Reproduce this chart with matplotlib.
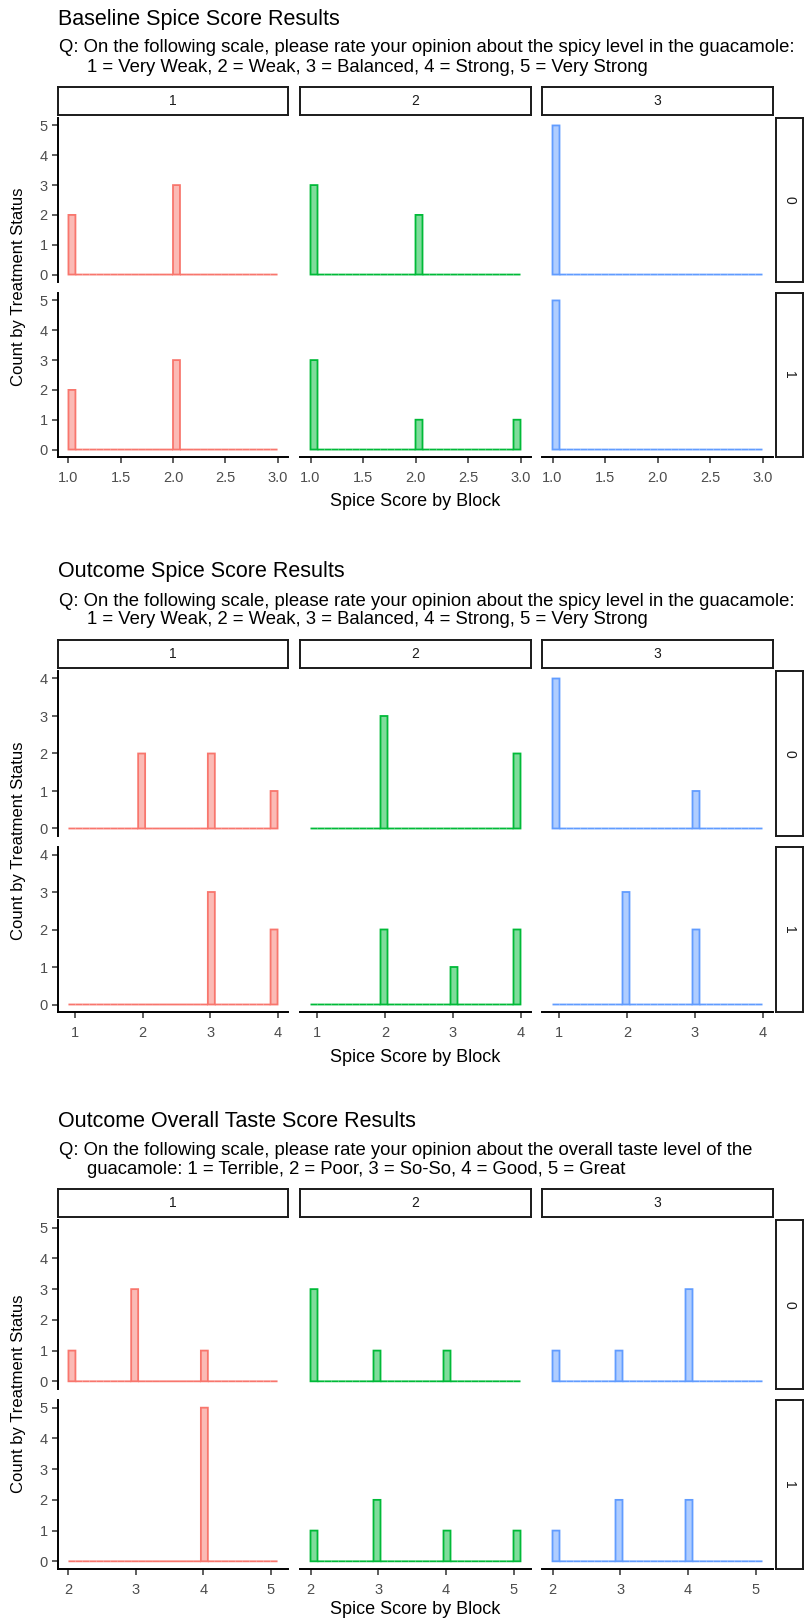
import numpy as np
import matplotlib
matplotlib.use("Agg")
import matplotlib.pyplot as plt

W, H = 807, 1619
plt.rcParams['font.family'] = ['Liberation Sans', 'DejaVu Sans']

colors = ["#F8766D", "#00BA38", "#619CFF"]
blocks = ["1", "2", "3"]
treat = ["0", "1"]

titles = ["Baseline Spice Score Results",
          "Outcome Spice Score Results",
          "Outcome Overall Taste Score Results"]
sub1 = ["Q: On the following scale, please rate your opinion about the spicy level in the guacamole:",
        "Q: On the following scale, please rate your opinion about the spicy level in the guacamole:",
        "Q: On the following scale, please rate your opinion about the overall taste level of the"]
sub2 = ["1 = Very Weak, 2 = Weak, 3 = Balanced, 4 = Strong, 5 = Very Strong",
        "1 = Very Weak, 2 = Weak, 3 = Balanced, 4 = Strong, 5 = Very Strong",
        "guacamole: 1 = Terrible, 2 = Poor, 3 = So-So, 4 = Good, 5 = Great"]

# scores on each chart and counts per [treatment][block]
base_scores = [1, 2, 3]
base_counts = [[[2, 3, 0], [3, 2, 0], [5, 0, 0]],
               [[2, 3, 0], [3, 1, 1], [5, 0, 0]]]

spice_scores = [1, 2, 3, 4]
spice_counts = [[[0, 2, 2, 1], [0, 3, 0, 2], [4, 0, 1, 0]],
                [[0, 0, 3, 2], [0, 2, 1, 2], [0, 3, 2, 0]]]

taste_scores = [2, 3, 4, 5]
taste_counts = [[[1, 3, 1, 0], [3, 1, 1, 0], [1, 1, 3, 0]],
                [[0, 0, 5, 0], [1, 2, 1, 1], [1, 2, 2, 0]]]

# histogram range (30 bins), x ticks, y ticks
bin_range = [(1.0, 3.0), (0.9, 4.0), (2.0, 5.1)]
xticks = [[1.0, 1.5, 2.0, 2.5, 3.0], [1, 2, 3, 4], [2, 3, 4, 5]]
xtick_labels = [["1.0", "1.5", "2.0", "2.5", "3.0"], ["1", "2", "3", "4"], ["2", "3", "4", "5"]]
ymax = [5, 4, 5]

charts = [(base_scores, base_counts), (spice_scores, spice_counts), (taste_scores, taste_counts)]
title_y = [19, 572, 1121]
row_h = [164, 165, 169]
xlab_off = [44, 45, 40]
cols_x = [(58, 288), (300, 531), (542, 773)]
rstrip_x = (776, 803)

fig = plt.figure(figsize=(W / 100, H / 100), dpi=100)


def ax_at(left, top, right, bottom):
    return fig.add_axes([left / W, 1 - bottom / H, (right - left) / W, (bottom - top) / H])


def strip(left, top, right, bottom, label, rot=0):
    a = ax_at(left, top, right, bottom)
    a.set_xticks([])
    a.set_yticks([])
    for s in a.spines.values():
        s.set_linewidth(1.4)
        s.set_color("#1a1a1a")
    a.text(0.5, 0.5, label, rotation=rot, ha="center", va="center",
           fontsize=10, color="#1a1a1a", transform=a.transAxes)


for ci, (scores, counts) in enumerate(charts):
    ty = title_y[ci]
    rh = row_h[ci]
    fig.text(58 / W, 1 - ty / H, titles[ci], fontsize=15.5, ha="left", va="center")
    fig.text(59 / W, 1 - (ty + 29) / H, sub1[ci], fontsize=13.3, ha="left", va="center")
    fig.text(87 / W, 1 - (ty + 48) / H, sub2[ci], fontsize=13.3, ha="left", va="center")

    edges = np.linspace(bin_range[ci][0], bin_range[ci][1], 31)
    span = edges[-1] - edges[0]
    xlim = (edges[0] - 0.05 * span, edges[-1] + 0.05 * span)

    for bi, (x0, x1) in enumerate(cols_x):
        strip(x0, ty + 68, x1, ty + 96, blocks[bi])

    for ri in range(2):
        top = ty + 99 + ri * (rh + 11)
        bot = top + rh
        strip(rstrip_x[0], top, rstrip_x[1], bot, treat[ri], rot=-90)
        for bi, (x0, x1) in enumerate(cols_x):
            ax = ax_at(x0, top, x1, bot)
            vals = np.repeat(scores, counts[ri][bi])
            h, _ = np.histogram(vals, bins=edges)
            ax.bar(edges[:-1], h, width=np.diff(edges), align="edge",
                   facecolor=colors[bi], alpha=0.5, edgecolor="none", snap=False)
            ax.bar(edges[:-1], h, width=np.diff(edges), align="edge",
                   facecolor="none", edgecolor=colors[bi], linewidth=1.3, snap=False)
            ax.set_xlim(*xlim)
            ax.set_ylim(-0.05 * ymax[ci], ymax[ci] * 1.05)
            for s in ["top", "right"]:
                ax.spines[s].set_visible(False)
            ax.tick_params(colors="#333333", labelcolor="#4d4d4d", labelsize=10.5,
                           length=4, width=1.1)
            ax.tick_params(axis="x", pad=6)
            ax.set_yticks(range(ymax[ci] + 1))
            ax.set_xticks(xticks[ci])
            ax.set_xticklabels(xtick_labels[ci])
            if bi == 0:
                ax.spines["left"].set_linewidth(1.4)
            else:
                ax.spines["left"].set_visible(False)
                ax.tick_params(axis="y", left=False, labelleft=False)
            if ri == 1:
                ax.spines["bottom"].set_linewidth(1.4)
            else:
                ax.spines["bottom"].set_visible(False)
                ax.tick_params(axis="x", bottom=False, labelbottom=False)

    y_mid = ty + 99 + rh + 5
    fig.text(19 / W, 1 - y_mid / H, "Count by Treatment Status", rotation=90,
             fontsize=12, ha="center", va="center")
    fig.text(415 / W, 1 - (ty + 99 + 2 * rh + 11 + xlab_off[ci]) / H, "Spice Score by Block",
             fontsize=13, ha="center", va="center")

fig.savefig("out.png", dpi=100)
